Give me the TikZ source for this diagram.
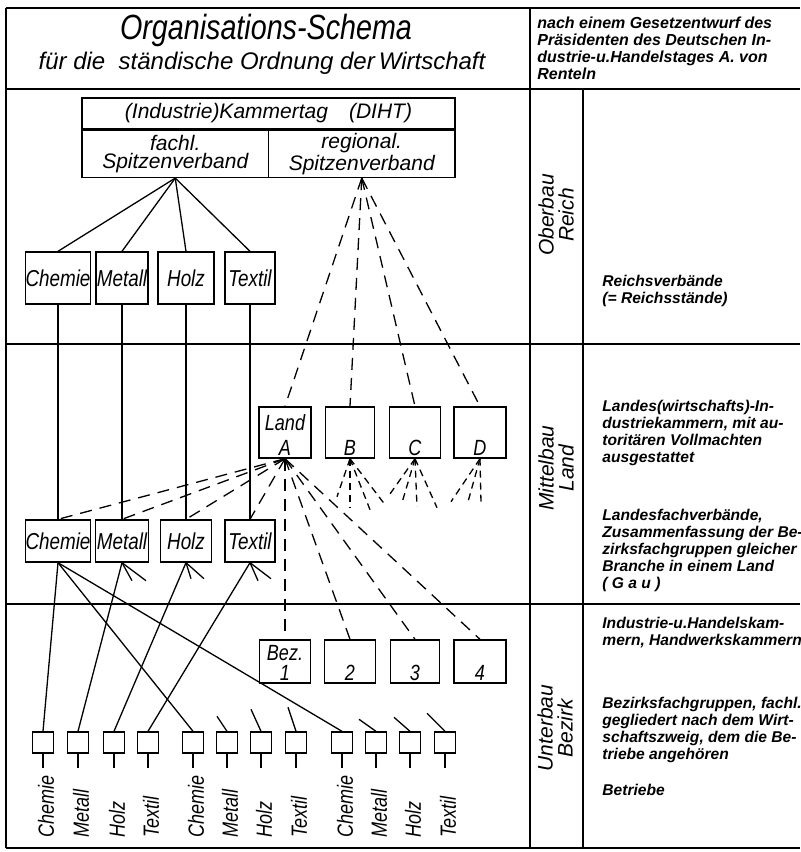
\documentclass[tikz,border=0pt]{standalone}
\usepackage{fontspec}
\setmainfont{Liberation Sans}
\newfontfamily\schmal{Liberation Sans}[FakeStretch=0.82]
\usetikzlibrary{positioning}

\begin{document}
\begin{tikzpicture}[x=0.5pt, y=-0.5pt, node distance=32pt, on grid,
  kasten/.style={draw, line width=0.7pt, inner sep=0pt, font=\schmal\itshape\fontsize{11.5}{12}\selectfont},
  zelle/.style={draw, line width=0.7pt, inner sep=0pt, align=center, font=\itshape\fontsize{10.5}{9}\selectfont},
  klein/.style={draw, line width=0.7pt, minimum size=10.5pt, inner sep=0pt},
  unten/.style={label={[anchor=south, inner sep=1.5pt, align=center, font=\schmal\itshape\fontsize{11}{9}\selectfont]south:#1}},
  strich/.style={line width=0.65pt},
  gestr/.style={line width=0.65pt, dash pattern=on 6pt off 4pt},
  kurz/.style={line width=0.65pt, dash pattern=on 3.5pt off 2.5pt},
  rahmen/.style={line width=0.9pt},
  zweig/.style={rotate=90, anchor=west, inner sep=0pt, font=\schmal\itshape\fontsize{11}{12}\selectfont},
  ebene/.style={rotate=90, align=center, font=\itshape\fontsize{10.5}{10}\selectfont},
  erkl/.style={anchor=west, align=left, inner sep=0pt, font=\bfseries\itshape\fontsize{7.8}{8.5}\selectfont}]
  \fill[white] (0,0) rectangle (800,852);
  \useasboundingbox (0,0) rectangle (800,852);

  % Rahmen und Felder
  \draw[rahmen] (6,8) -- (800,8) (6,89) -- (800,89)
    (6,344) -- (800,344) (6,604) -- (800,604) (6,848) -- (800,848)
    (530,8) -- (530,848) (583,89) -- (583,848);
  \draw[line width=1.4pt] (6,8) -- (6,848);

  % Kopf
  \node[font=\schmal\itshape\fontsize{17.5}{18}\selectfont] (titel) at (266,30) {Organisations-Schema};
  \node[font=\itshape\fontsize{12}{12}\selectfont] (untertitel) at (262,63) {für die\ \ ständische Ordnung der\,Wirtschaft};
  \node[erkl, font=\bfseries\itshape\fontsize{8}{8.5}\selectfont] (quelle) at (537,48) {nach einem Gesetzentwurf des\\Präsidenten des Deutschen In-\\dustrie-u.Handelstages A. von\\Renteln};

  % Ebenen
  \node[ebene] (ober) at (556,215) {Oberbau\\Reich};
  \node[ebene] (mittel) at (556,468) {Mittelbau\\Land};
  \node[ebene] (unter) at (555,728) {Unterbau\\Bezirk};

  % Erklaerungen
  \node[erkl] (e1) at (602,291) {Reichsverbände\\(= Reichsstände)};
  \node[erkl] (e2) at (602,433) {Landes(wirtschafts)-In-\\dustriekammern, mit au-\\toritären Vollmachten\\ausgestattet};
  \node[erkl] (e3) at (602,550) {Landesfachverbände,\\Zusammenfassung der Be-\\zirksfachgruppen gleicher\\Branche in einem Land\\( G a u )};
  \node[erkl] (e4) at (602,633) {Industrie-u.Handelskam-\\mern, Handwerkskammern};
  \node[erkl] (e5) at (602,730) {Bezirksfachgruppen, fachl.\\gegliedert nach dem Wirt-\\schaftszweig, dem die Be-\\triebe angehören};
  \node[erkl] (e6) at (602,790) {Betriebe};

  % Kammertag
  \node[zelle, minimum width=186.5pt, minimum height=15.5pt] (kt) at (268.5,113.5) {(Industrie)Kammertag\quad(DIHT)};
  \node[zelle, minimum width=93.25pt, minimum height=23.5pt, anchor=north west] (kf) at (kt.south west) {fachl.\\Spitzenverband};
  \node[zelle, minimum width=93.25pt, minimum height=23.5pt, anchor=north east] (kr) at (kt.south east) {regional.\\Spitzenverband};

  % Reichsverbaende
  \node[kasten, minimum width=30pt, minimum height=26pt] (c1) at (58,278) {Chemie};
  \node[kasten, minimum width=26pt, minimum height=26pt] (m1) [right=of c1] {Metall};
  \node[kasten, minimum width=28pt, minimum height=26pt] (h1) [right=of m1] {Holz};
  \node[kasten, minimum width=25pt, minimum height=26pt] (t1) [right=of h1] {Textil};

  % Landesfachverbaende
  \node[kasten, minimum width=30pt, minimum height=21pt] (c2) [below=131.5pt of c1] {Chemie};
  \node[kasten, minimum width=26.5pt, minimum height=21pt] (m2) [below=131.5pt of m1] {Metall};
  \node[kasten, minimum width=25.5pt, minimum height=21pt] (h2) [below=131.5pt of h1] {Holz};
  \node[kasten, minimum width=25pt, minimum height=21pt] (t2) [below=131.5pt of t1] {Textil};

  % Laender
  \node[kasten, minimum width=26pt, minimum height=25.5pt, unten={Land\\[3.5pt]A}] (la) at (285,432.5) {};
  \node[kasten, minimum width=24.5pt, minimum height=25.5pt, unten=B] (lb) [right=32.5pt of la] {};
  \node[kasten, minimum width=25.5pt, minimum height=25.5pt, unten=C] (lc) [right=32.5pt of lb] {};
  \node[kasten, minimum width=26pt, minimum height=25.5pt, unten=D] (ld) [right=32.5pt of lc] {};

  % Bezirke
  \node[kasten, minimum width=25.5pt, minimum height=21.5pt, unten={Bez.\\[1pt]1}] (b1) [below=114.5pt of la] {};
  \node[kasten, minimum width=25.5pt, minimum height=21.5pt, unten=2] (b2) [below=114.5pt of lb] {};
  \node[kasten, minimum width=24.5pt, minimum height=21.5pt, unten=3] (b3) [below=114.5pt of lc] {};
  \node[kasten, minimum width=26pt, minimum height=21.5pt, unten=4] (b4) [below=114.5pt of ld] {};

  % Bezirksfachgruppen
  \foreach \x/\txt [count=\i] in {43/Chemie, 78/Metall, 114/Holz, 148/Textil,
      193/Chemie, 227/Metall, 261/Holz, 296/Textil,
      342/Chemie, 376/Metall, 410/Holz, 445/Textil} {
    \node[klein] (s\i) at (\x,742.5) {};
    \draw[strich] (s\i.south) -- ++(0,14);
    \node[zweig] (z\i) at (\x+3,838) {\txt};
  }

  % Verbindungen
  \path[strich] (kf.south) edge (c1.north) edge (m1.north) edge (h1.north) edge (t1.north);
  \path[gestr] (kr.south) edge (la.north) edge (lb.north) edge (lc.north) edge (ld.north);
  \path[strich] (c1) edge (c2) (m1) edge (m2) (h1) edge (h2) (t1) edge (t2);
  \path[gestr] (la.south) edge (c2.north) edge (m2.north) edge (h2.north) edge (t2.north)
    edge (b1.north) edge (b2.north) edge (b3.north) edge (b4.north);
  \path[strich] (c2.south) edge (s1.north) edge (s5.north) edge (s9.north)
    (m2.south) edge (s2.north)
    (h2.south) edge (s3.north)
    (t2.south) edge (s4.north);

  % offene Enden
  \foreach \n/\dx/\dy in {m2/10/18, m2/24/18, h2/5/16, h2/18/16, t2/8/18, t2/21/16}
    \draw[strich] (\n.south) -- ++(\dx,\dy);
  \foreach \i/\dx/\dy in {6/-10/-15, 7/-10/-22, 8/-8/-24, 10/-17/-12, 11/-16/-14, 12/-18/-18}
    \draw[strich] (s\i.north) -- ++(\dx,\dy);
  \foreach \n/\dx/\dy in {lb/-13/38, lb/0/49, lb/20/51, lb/35/46,
      lc/-27/38, lc/-13/44, lc/2/48, lc/22/49, ld/-29/43, ld/-12/43, ld/1/44}
    \draw[kurz] (\n.south) -- ++(\dx,\dy);
\end{tikzpicture}
\end{document}
